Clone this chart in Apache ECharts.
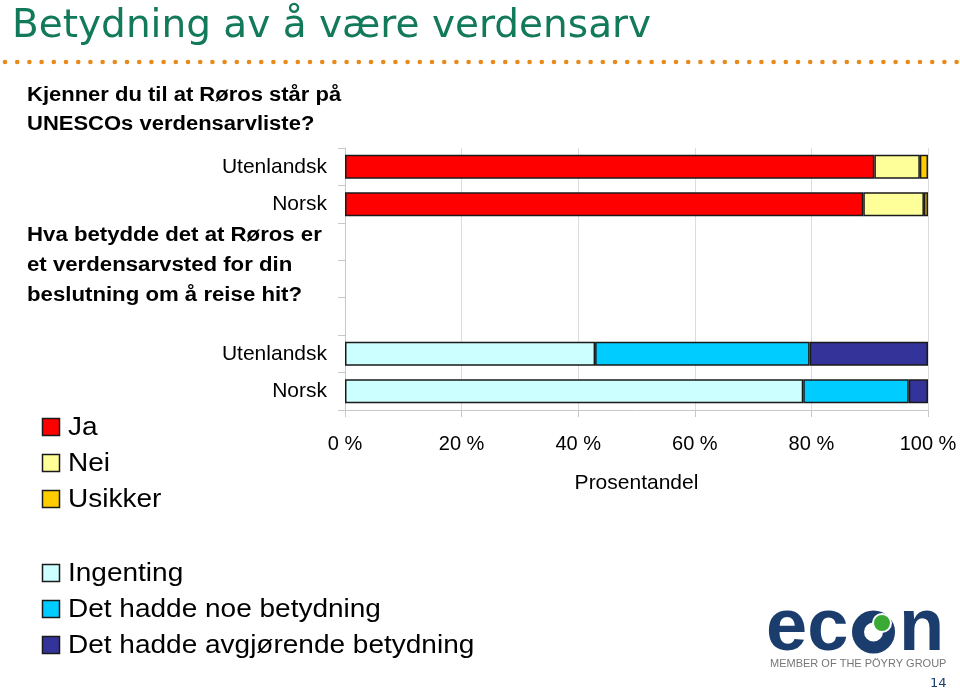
<!DOCTYPE html>
<html>
<head>
<meta charset="utf-8">
<script src="https://cdn.jsdelivr.net/npm/echarts@6/dist/echarts.min.js"></script>
<style>
html,body{margin:0;padding:0;background:#fff;}
#chart{width:960px;height:692px;}
</style>
</head>
<body>
<div id="chart"></div>
<script>
// ---- data ----
const categories = ['Utenlandsk', 'Norsk', '', '', '', 'Utenlandsk', 'Norsk'];
const awareNames = ['Ja', 'Nei', 'Usikker'];
const jaValues = [90.8, 88.9];
const neiValues = [7.8, 10.4];
const usikkerValues = [1.4, 0.7];
const impactNames = ['Ingenting', 'Det hadde noe betydning', 'Det hadde avgjørende betydning'];
const ingentingValues = [42.9, 78.6];
const noeValues = [36.8, 18.1];
const avgjorendeValues = [20.3, 3.3];
const xTickValues = [0, 20, 40, 60, 80, 100];
const titleText = 'Betydning av å være verdensarv';
const question1 = ['Kjenner du til at Røros står på', 'UNESCOs verdensarvliste?'];
const question2 = ['Hva betydde det at Røros er', 'et verdensarvsted for din', 'beslutning om å reise hit?'];
const axisName = 'Prosentandel';

// ---- build ----
const awareColors = ['#ff0000', '#ffff99', '#ffcc00'];
const impactColors = ['#ccffff', '#00ccff', '#333399'];
const pad = ['-', '-', '-', '-', '-'];
const topData = v => v.concat(pad);
const bottomData = v => pad.concat(v);

const borderStyle = { borderColor: '#1a1a1a', borderWidth: 1.5 };
function bar(name, data, color) {
  return {
    name, type: 'bar', stack: 'total', data, barWidth: 24,
    itemStyle: Object.assign({ color }, borderStyle),
    emphasis: { disabled: true }, animation: false
  };
}

const NAVY = '#1b3d6e';
const graphics = [];
graphics.push({ type: 'text', x: 12, y: 27, style: { text: titleText, font: '39px "DejaVu Sans"', fill: '#13795b', textVerticalAlign: 'middle' } });
for (let x = 5; x < 960; x += 12.2) {
  graphics.push({ type: 'circle', shape: { cx: x, cy: 62, r: 2.3 }, style: { fill: '#e88a1a' } });
}
question1.forEach((t, i) => graphics.push({ type: 'text', x: 27, y: 95 + i * 29, scaleX: 1.1, style: { text: t, font: 'bold 20px "Liberation Sans"', fill: '#000', textVerticalAlign: 'middle' } }));
question2.forEach((t, i) => graphics.push({ type: 'text', x: 27, y: 235 + i * 30, scaleX: 1.11, style: { text: t, font: 'bold 20px "Liberation Sans"', fill: '#000', textVerticalAlign: 'middle' } }));

// legends (drawn as rect + text so the wide spacing of the original can be matched)
function legendBlock(names, colors, top) {
  names.forEach((n, i) => {
    const cy = top + i * 36;
    graphics.push({ type: 'rect', shape: { x: 42.5, y: cy - 8.5, width: 17, height: 17 }, style: { fill: colors[i], stroke: '#1a1a1a', lineWidth: 1.5 } });
    graphics.push({ type: 'text', x: 68, y: cy + 1, scaleX: 1.12, style: { text: n, font: '25px "Liberation Sans"', fill: '#000', textVerticalAlign: 'middle' } });
  });
}
legendBlock(awareNames, awareColors, 427);
legendBlock(impactNames, impactColors, 573);

// logo
graphics.push({ type: 'text', x: 766, y: 630, style: { text: 'ec', font: 'bold 74px "Liberation Sans"', fill: NAVY, textVerticalAlign: 'middle' } });
graphics.push({ type: 'circle', shape: { cx: 873.5, cy: 632, r: 15.5 }, style: { fill: 'none', stroke: NAVY, lineWidth: 12 } });
graphics.push({ type: 'circle', shape: { cx: 882, cy: 623, r: 9 }, style: { fill: '#3aaa35', stroke: '#fff', lineWidth: 2 } });
graphics.push({ type: 'text', x: 899, y: 630, style: { text: 'n', font: 'bold 74px "Liberation Sans"', fill: NAVY, textVerticalAlign: 'middle' } });
graphics.push({ type: 'text', x: 770, y: 664, style: { text: 'MEMBER OF THE PÖYRY GROUP', font: '11px "Liberation Sans"', fill: '#777', textVerticalAlign: 'middle' } });
graphics.push({ type: 'text', x: 930, y: 684, style: { text: '14', font: '13px "DejaVu Sans"', fill: NAVY, textVerticalAlign: 'middle' } });

const option = {
  animation: false,
  backgroundColor: '#fff',
  textStyle: { fontFamily: 'Liberation Sans' },
  grid: { left: 345, right: 32, top: 148, height: 262, containLabel: false },
  xAxis: {
    type: 'value', min: 0, max: 100, interval: 20,
    axisLine: { show: true, lineStyle: { color: '#c8c8c8' } },
    axisTick: { show: true, length: 7, lineStyle: { color: '#c8c8c8' } },
    splitLine: { show: true, lineStyle: { color: '#dcdcdc' } },
    axisLabel: { fontSize: 20, color: '#000', margin: 24, formatter: v => xTickValues.includes(v) ? v + ' %' : '' },
    name: axisName, nameLocation: 'middle', nameGap: 63,
    nameTextStyle: { fontSize: 21, color: '#000' }
  },
  yAxis: {
    type: 'category', inverse: true,
    data: categories.map((c, i) => String(i)),
    axisLine: { show: true, lineStyle: { color: '#c8c8c8' } },
    axisTick: { show: true, length: 7, lineStyle: { color: '#c8c8c8' } },
    axisLabel: { fontSize: 21, color: '#000', margin: 18, formatter: (v) => categories[+v] }
  },
  graphic: graphics,
  series: [
    bar(awareNames[0], topData(jaValues), awareColors[0]),
    bar(awareNames[1], topData(neiValues), awareColors[1]),
    bar(awareNames[2], topData(usikkerValues), awareColors[2]),
    bar(impactNames[0], bottomData(ingentingValues), impactColors[0]),
    bar(impactNames[1], bottomData(noeValues), impactColors[1]),
    bar(impactNames[2], bottomData(avgjorendeValues), impactColors[2])
  ]
};

const chart = echarts.init(document.getElementById('chart'), null, { renderer: 'canvas' });
chart.setOption(option);
</script>
</body>
</html>
